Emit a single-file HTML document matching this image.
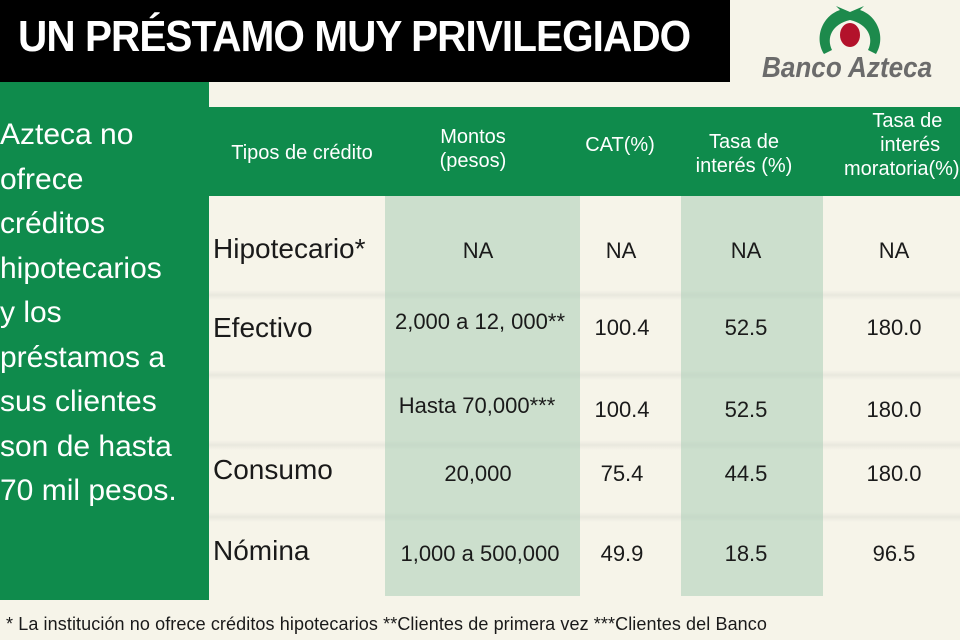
<!DOCTYPE html>
<html><head><meta charset="utf-8"><style>
*{margin:0;padding:0}
body{width:960px;height:640px;background:#f6f4e9;position:relative;overflow:hidden;font-family:"Liberation Sans Narrow","Liberation Sans",sans-serif;color:#1a1a1a}
div{position:absolute}
.t{white-space:nowrap}
.c{text-align:center;transform:translateX(-50%)}
.sep{left:209px;width:751px;height:10px;background:linear-gradient(#f6f4e9,#e9e8de 50%,#f6f4e9)}
</style></head><body>
<div style="left:0;top:0;width:730px;height:82px;background:#000"></div>
<div class="t" style="left:18px;top:12px;color:#fff;font:bold 44px 'Liberation Sans',sans-serif;transform:scaleX(0.92);transform-origin:left;letter-spacing:-1px">UN PRÉSTAMO MUY PRIVILEGIADO</div>
<svg style="position:absolute;left:810px;top:2px" width="80" height="56" viewBox="0 0 80 56">
<path d="M14 52 C4 36 12 14 30 8 L26 4 L40 10 L54 4 L50 8 C68 14 76 36 66 52 L58 48 C64 36 58 22 40 18 C22 22 16 36 22 48Z" fill="#1d8a4c"/>
<ellipse cx="40" cy="33" rx="10" ry="12" fill="#b3122b"/>
</svg>
<div class="t" style="left:762px;top:52px;font:italic bold 29px 'Liberation Sans',sans-serif;color:#6b6b6b;transform:scaleX(0.9);transform-origin:left">Banco Azteca</div>
<div style="left:0;top:82px;width:209px;height:518px;background:#0f8b4c"></div>
<div style="left:0;top:113px;width:209px;color:#fff;font-size:30px;line-height:44.5px">Azteca no<br>ofrece<br>créditos<br>hipotecarios<br>y los<br>préstamos a<br>sus clientes<br>son de hasta<br>70 mil pesos.</div>
<div style="left:209px;top:107px;width:751px;height:89px;background:#0f8b4c"></div>
<div class="sep" style="top:290px"></div>
<div class="sep" style="top:370px"></div>
<div class="sep" style="top:440px"></div>
<div class="sep" style="top:512px"></div>
<div style="left:385px;top:196px;width:195px;height:400px;background:rgba(170,205,182,0.55)"></div>
<div style="left:681px;top:196px;width:142px;height:400px;background:rgba(170,205,182,0.55)"></div>
<div style="color:#fff;font-size:20px;line-height:24px">
<div class="t c" style="left:302px;top:141px">Tipos de crédito</div>
<div class="t c" style="left:473px;top:125px;text-align:center">Montos<br>(pesos)</div>
<div class="t c" style="left:620px;top:133px">CAT(%)</div>
<div class="t c" style="left:744px;top:130px;text-align:center">Tasa de<br>interés (%)</div>
<div class="t" style="left:844px;top:109px;text-align:center">&nbsp;&nbsp;Tasa de<br>&nbsp;&nbsp;&nbsp;interés<br>moratoria(%)</div>
</div>
<div style="font-size:28px">
<div class="t" style="left:213px;top:233px">Hipotecario*</div>
<div class="t" style="left:213px;top:312px">Efectivo</div>
<div class="t" style="left:213px;top:454px">Consumo</div>
<div class="t" style="left:213px;top:535px">Nómina</div>
</div>
<div style="font-size:22px">
<div class="t c" style="left:478px;top:238px">NA</div>
<div class="t c" style="left:621px;top:238px">NA</div>
<div class="t c" style="left:746px;top:238px">NA</div>
<div class="t c" style="left:894px;top:238px">NA</div>
<div class="t c" style="left:480px;top:309px">2,000 a 12, 000**</div>
<div class="t c" style="left:622px;top:315px">100.4</div>
<div class="t c" style="left:746px;top:315px">52.5</div>
<div class="t c" style="left:894px;top:315px">180.0</div>
<div class="t c" style="left:477px;top:393px">Hasta 70,000***</div>
<div class="t c" style="left:622px;top:397px">100.4</div>
<div class="t c" style="left:746px;top:397px">52.5</div>
<div class="t c" style="left:894px;top:397px">180.0</div>
<div class="t c" style="left:478px;top:461px">20,000</div>
<div class="t c" style="left:622px;top:461px">75.4</div>
<div class="t c" style="left:746px;top:461px">44.5</div>
<div class="t c" style="left:894px;top:461px">180.0</div>
<div class="t c" style="left:480px;top:541px">1,000 a 500,000</div>
<div class="t c" style="left:622px;top:541px">49.9</div>
<div class="t c" style="left:746px;top:541px">18.5</div>
<div class="t c" style="left:894px;top:541px">96.5</div>
</div>
<div class="t" style="left:6px;top:614px;font-size:18px;letter-spacing:0.1px">* La institución no ofrece créditos hipotecarios **Clientes de primera vez ***Clientes del Banco</div>
</body></html>
